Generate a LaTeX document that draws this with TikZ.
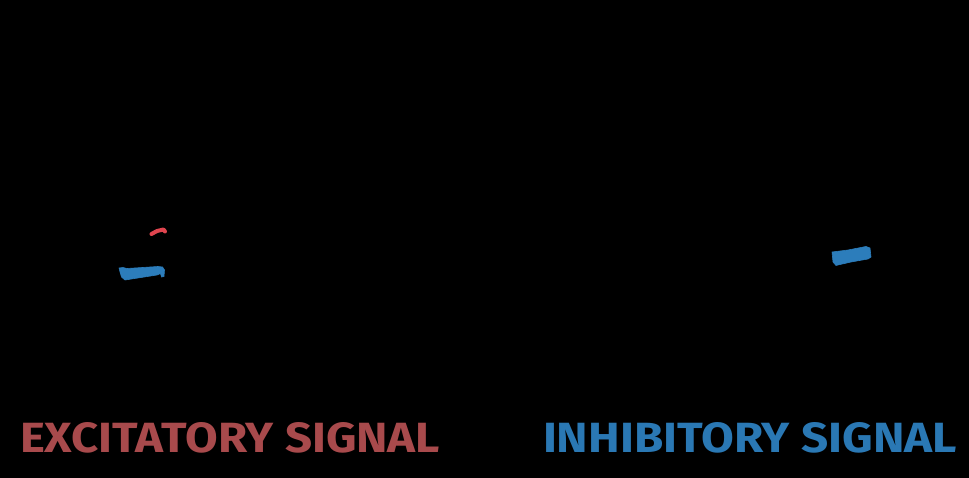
\documentclass[tikz,border=0pt]{standalone}
\usepackage{fontspec}
\setmainfont{Fira Sans}
\definecolor{excred}{HTML}{A84A4C}
\definecolor{inhblue}{HTML}{2A78B4}
\definecolor{blobblue}{HTML}{2C7DBB}
\definecolor{blobred}{HTML}{E0454F}
\tikzset{
  label/.style={anchor=south west, inner sep=0pt, outer sep=0pt, font=\bfseries},
  blob/.style={fill=#1, draw=#1, line width=0.6pt, line join=round},
}
\begin{document}
\begin{tikzpicture}[x=1pt,y=-1pt]
\fill[black] (0,0) rectangle (969,478);
\useasboundingbox (0,0) rectangle (969,478);
% red blob
\draw[blobred, line width=4pt, line cap=round, line join=round] (151.5,234) -- (157,231) -- (163.5,229.5) -- (165,231.5);
% left blue blob
\filldraw[blob=blobblue] (119,268) -- (123,267.5) -- (127,268.5) -- (158,266.5) -- (162.5,267) -- (164.5,270) -- (164,276.5) -- (161.5,277) -- (160.5,273.5) -- (157,275) -- (125,280) -- (121.5,277) -- (120,272) -- cycle;
% right blue blob
\filldraw[blob=blobblue] (832,252) -- (848,250) -- (866,246.5) -- (870,248) -- (871,257) -- (868,259) -- (851,262) -- (840,264.5) -- (836,265.5) -- (833,262) -- cycle;
% labels
\node[label, text=excred] (exc) at (20,453) {\resizebox{420pt}{30pt}{EXCITATORY SIGNAL}};
\node[label, text=inhblue] (inh) at (543,453) {\resizebox{414pt}{30pt}{INHIBITORY SIGNAL}};
\end{tikzpicture}
\end{document}
